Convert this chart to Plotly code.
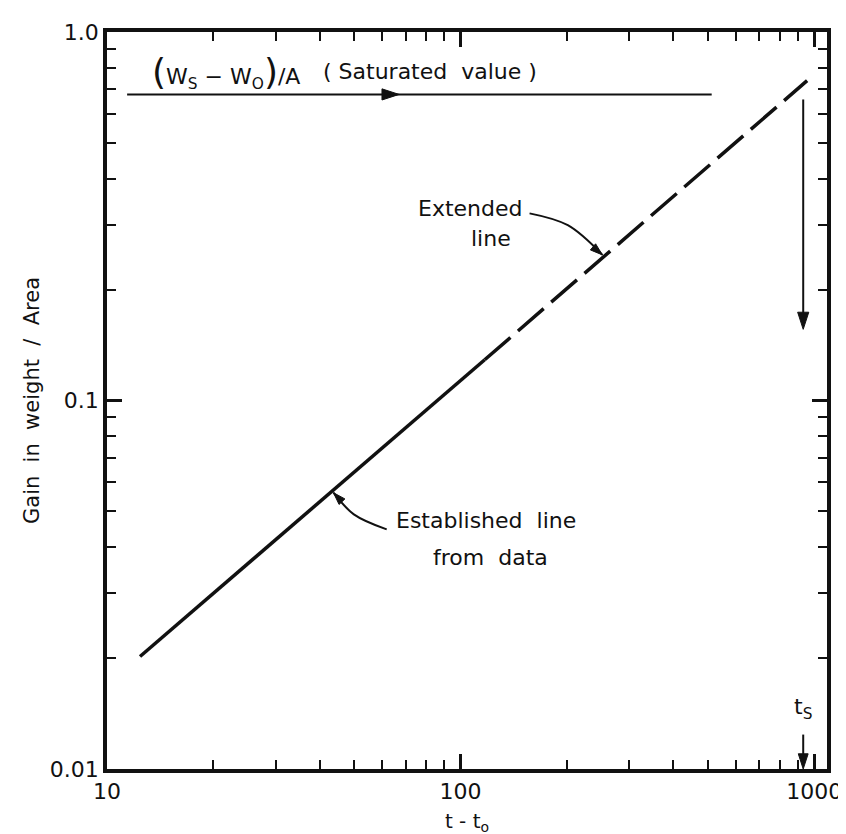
import math
import plotly.graph_objects as go

# ---- data ----
solid_x = [12.4, 117]          # established line from data
solid_y = [0.0202, 0.129]
dashed_x = [117, 955]          # extended line
dashed_y = [0.129, 0.738]

saturated_y = 0.677            # (Ws - Wo)/A  saturated value
saturated_x = [11.4, 67, 513]  # start, arrowhead, end

ts_x = 931                     # t_s
ts_upper_y = [0.656, 0.156]
ts_lower_y = [0.0124, 0.01]

ext_ptr_x = [156.7, 201.0, 251.8]
ext_ptr_y = [0.322, 0.299, 0.2484]
est_ptr_x = [61.8, 49.9, 43.7]
est_ptr_y = [0.0447, 0.0491, 0.0562]

x_tickvals = [10, 100, 1000]
x_ticktext = ["10", "100", "1000"]
y_tickvals = [0.01, 0.1, 1]
y_ticktext = ["0.01", "0.1", "1.0"]
x_minor = [m * d for d in (10, 100) for m in range(2, 10)]
y_minor = [m * d for d in (0.01, 0.1) for m in range(2, 10)]

FONT = "DejaVu Sans"
INK = "#111111"
L = math.log10

fig = go.Figure()


def line(x, y, width=2, dash=None, shape="linear", heads=None, head_size=13):
    mk = None
    mode = "lines"
    if heads is not None:
        mode = "lines+markers"
        mk = dict(symbol="arrow", angleref="previous", color=INK, opacity=1,
                  size=[head_size if h else 0 for h in heads],
                  line=dict(width=1, color=INK))
    fig.add_trace(go.Scatter(
        x=x, y=y, mode=mode, marker=mk, hoverinfo="skip",
        line=dict(color=INK, width=width, dash=dash, shape=shape)))


line(solid_x, solid_y, width=3.5)
line(dashed_x, dashed_y, width=3.5, dash="34px,10px")
line(saturated_x, [saturated_y] * 3, width=2, heads=[0, 1, 0], head_size=18)
line([ts_x, ts_x], ts_upper_y, width=2, heads=[0, 1], head_size=18)
line([ts_x, ts_x], ts_lower_y, width=2, heads=[0, 1], head_size=16)
line(ext_ptr_x, ext_ptr_y, width=2, shape="spline", heads=[0, 0, 1], head_size=13)
line(est_ptr_x, est_ptr_y, width=2, shape="spline", heads=[0, 0, 1], head_size=13)

ann = []


def label(x, y, text, anchor="left", size=22):
    ann.append(dict(x=L(x), y=L(y), text=text, showarrow=False,
                    xanchor=anchor, yanchor="middle",
                    font=dict(family=FONT, size=size, color=INK)))


label(13.27, 0.781,
      '<span style="font-size:36px">(</span>W<sub>S</sub> − W<sub>O</sub>'
      '<span style="font-size:36px">)</span>/A')
label(40.4, 0.781, "( Saturated  value )")
label(74.9, 0.332, "Extended")
label(122, 0.276, "line", anchor="center")
label(64.7, 0.0473, "Established  line")
label(82.5, 0.0376, "from  data")
label(ts_x, 0.0146, "t<sub>S</sub>", anchor="center")

fig.update_layout(
    width=846, height=834,
    margin=dict(l=99, r=16, t=17, b=73),
    plot_bgcolor="white", paper_bgcolor="white",
    showlegend=False,
    font=dict(family=FONT, size=22, color=INK),
    annotations=ann,
)
axis_common = dict(
    type="log", ticks="inside", ticklen=15, tickwidth=2.5, tickcolor=INK,
    showline=True, linewidth=3.5, linecolor=INK, mirror="allticks",
    showgrid=False, zeroline=False, tickmode="array",
    tickfont=dict(family=FONT, size=22, color=INK),
)
fig.update_xaxes(**axis_common, range=[1, L(1087)],
                 tickvals=x_tickvals, ticktext=x_ticktext,
                 minor=dict(tickmode="array", tickvals=x_minor, ticks="inside",
                            ticklen=9, tickwidth=2, tickcolor=INK, showgrid=False),
                 title=dict(text="t - t<sub>o</sub>", standoff=12,
                            font=dict(family=FONT, size=20, color=INK)))
fig.update_yaxes(**axis_common, range=[-2, 0],
                 tickvals=y_tickvals, ticktext=y_ticktext,
                 minor=dict(tickmode="array", tickvals=y_minor, ticks="inside",
                            ticklen=9, tickwidth=2, tickcolor=INK, showgrid=False),
                 title=dict(text="Gain  in  weight  /  Area", standoff=6,
                            font=dict(family=FONT, size=21, color=INK)))

fig.write_html("out.html")
